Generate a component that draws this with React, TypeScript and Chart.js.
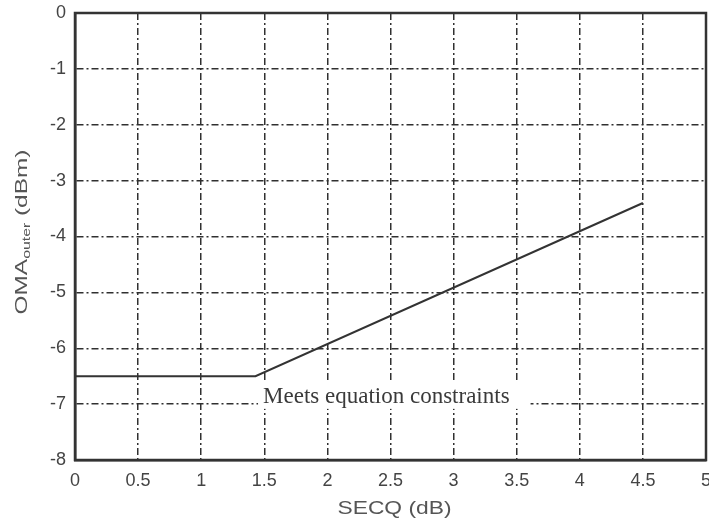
import React, { useEffect, useRef } from "react";
import { Chart, registerables } from "chart.js";

Chart.register(...registerables);

const xValues = [0, 1.43, 4.5];
const yValues = [-6.5, -6.5, -3.4];
const xTicks = [0, 0.5, 1, 1.5, 2, 2.5, 3, 3.5, 4, 4.5, 5];
const yTicks = [0, -1, -2, -3, -4, -5, -6, -7, -8];
const annotationText = "Meets equation constraints";
const annotationPos = { x: 1.49, y: -6.87 };
const xTitle = "SECQ (dB)";
const yTitleMain = "OMA";
const yTitleSub = "outer";
const yTitleUnit = " (dBm)";

const overlayPlugin = {
  id: "overlay",
  afterDatasetsDraw(chart: any) {
    const ctx = chart.ctx;
    const xs = chart.scales.x;
    const ys = chart.scales.y;
    ctx.save();
    ctx.font = '23px "Liberation Serif", "DejaVu Serif", serif';
    const tx = xs.getPixelForValue(annotationPos.x);
    const ty = ys.getPixelForValue(annotationPos.y);
    const w = ctx.measureText(annotationText).width;
    ctx.fillStyle = "#ffffff";
    ctx.fillRect(tx - 5, ty - 14, w + 26, 26);
    ctx.fillStyle = "#3a3a3a";
    ctx.textBaseline = "middle";
    ctx.textAlign = "left";
    ctx.fillText(annotationText, tx, ty);
    ctx.restore();
  },
  afterDraw(chart: any) {
    const ctx = chart.ctx;
    const area = chart.chartArea;
    // x title, stretched horizontally
    ctx.save();
    ctx.font = '18px "Liberation Sans", Arial, sans-serif';
    ctx.fillStyle = "#555";
    ctx.textAlign = "center";
    ctx.textBaseline = "middle";
    ctx.translate((area.left + area.right) / 2 + 4, 509);
    const xw = ctx.measureText(xTitle).width;
    ctx.scale(114 / xw, 1);
    ctx.fillText(xTitle, 0, 0);
    ctx.restore();

    // y title with subscript
    ctx.save();
    ctx.fillStyle = "#555";
    ctx.translate(21, 232);
    ctx.rotate(-Math.PI / 2);
    const mainFont = '17px "Liberation Sans", Arial, sans-serif';
    const subFont = '11px "Liberation Sans", Arial, sans-serif';
    ctx.font = mainFont;
    const w1 = ctx.measureText(yTitleMain).width;
    const w3 = ctx.measureText(yTitleUnit).width;
    ctx.font = subFont;
    const w2 = ctx.measureText(yTitleSub).width;
    const total = w1 + w2 + w3;
    ctx.scale(165 / total, 1);
    let cx = -total / 2;
    ctx.textAlign = "left";
    ctx.textBaseline = "alphabetic";
    ctx.font = mainFont;
    ctx.fillText(yTitleMain, cx, 6);
    cx += w1;
    ctx.font = subFont;
    ctx.fillText(yTitleSub, cx, 9);
    cx += w2;
    ctx.font = mainFont;
    ctx.fillText(yTitleUnit, cx, 6);
    ctx.restore();

    // frame
    ctx.save();
    ctx.strokeStyle = "#333";
    ctx.lineWidth = 2.5;
    ctx.strokeRect(area.left, area.top, area.right - area.left, area.bottom - area.top);
    ctx.restore();
  },
};

export default function App() {
  const canvasRef = useRef<HTMLCanvasElement | null>(null);

  useEffect(() => {
    if (!canvasRef.current) return;
    const data = xValues.map((x, i) => ({ x, y: yValues[i] }));
    const gridColor = "#303030";
    const dash = [7, 3, 2, 3];
    const chart = new Chart(canvasRef.current, {
      type: "line",
      data: {
        datasets: [
          {
            data,
            borderColor: "#333333",
            borderWidth: 2,
            pointRadius: 0,
            fill: false,
            tension: 0,
          },
        ],
      },
      options: {
        animation: false,
        responsive: false,
        maintainAspectRatio: false,
        layout: { padding: { top: 13, right: 3, left: 0, bottom: 0 } },
        plugins: {
          legend: { display: false },
          tooltip: { enabled: false },
        },
        scales: {
          x: {
            type: "linear",
            min: 0,
            max: 5,
            afterBuildTicks: (scale: any) => {
              scale.ticks = xTicks.map((v) => ({ value: v }));
            },
            afterFit: (scale: any) => {
              scale.height = 63;
              scale.paddingLeft = 0;
              scale.paddingRight = 0;
            },
            ticks: {
              color: "#444",
              font: { family: '"Liberation Sans", Arial, sans-serif', size: 18 },
              padding: 10,
              maxRotation: 0,
              autoSkip: false,
              callback: (v: any) => String(v),
            },
            grid: {
              color: gridColor,
              lineWidth: 1.5,
              drawTicks: false,
            },
            border: { display: true, color: "#333", width: 2.5, dash },
          },
          y: {
            type: "linear",
            min: -8,
            max: 0,
            afterBuildTicks: (scale: any) => {
              scale.ticks = yTicks.map((v) => ({ value: v }));
            },
            afterFit: (scale: any) => {
              scale.width = 75;
              scale.paddingTop = 0;
              scale.paddingBottom = 0;
            },
            ticks: {
              color: "#444",
              font: { family: '"Liberation Sans", Arial, sans-serif', size: 18 },
              padding: 9,
              autoSkip: false,
              callback: (v: any) => String(v),
            },
            grid: {
              color: gridColor,
              lineWidth: 1.5,
              drawTicks: false,
            },
            border: { display: true, color: "#333", width: 2.5, dash },
          },
        },
      } as any,
      plugins: [overlayPlugin],
    });
    return () => chart.destroy();
  }, []);

  return (
    <div style={{ position: "absolute", left: 0, top: 0, width: 709, height: 523, background: "#fff" }}>
      <canvas ref={canvasRef} width={709} height={523} style={{ display: "block" }} />
    </div>
  );
}
